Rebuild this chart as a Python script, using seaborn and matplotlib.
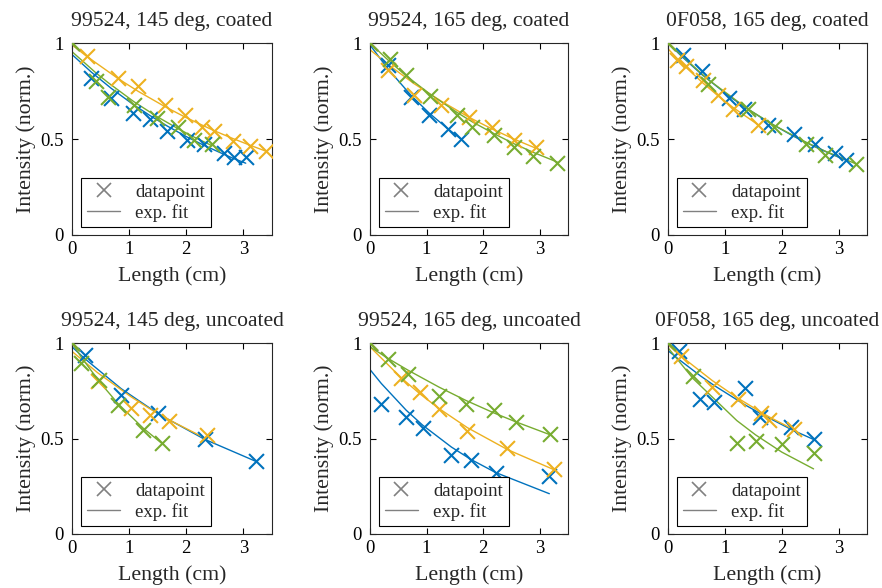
import numpy as np
import pandas as pd
import matplotlib
matplotlib.use("Agg")
import matplotlib.pyplot as plt
from matplotlib.lines import Line2D
import seaborn as sns

# ---------------- data ----------------
titles = ["99524, 145 deg, coated", "99524, 165 deg, coated", "0F058, 165 deg, coated",
          "99524, 145 deg, uncoated", "99524, 165 deg, uncoated", "0F058, 165 deg, uncoated"]
series_names = ["s1", "s2", "s3"]
series_colors = ["#0072BD", "#EDB120", "#77AC30"]

# panel 1
p1_x1 = [0, 0.34, 0.69, 1.07, 1.36, 1.67, 2.01, 2.31, 2.66, 2.84, 3.04]
p1_y1 = [1.0, 0.817, 0.713, 0.634, 0.603, 0.544, 0.495, 0.472, 0.429, 0.408, 0.404]
p1_f1 = [0.940, 0.848, 0.763, 0.680, 0.623, 0.567, 0.511, 0.467, 0.420, 0.397, 0.374]
p1_x2 = [0, 0.26, 0.81, 1.16, 1.63, 1.98, 2.28, 2.49, 2.81, 3.12, 3.39]
p1_y2 = [1.0, 0.934, 0.817, 0.777, 0.678, 0.625, 0.561, 0.542, 0.491, 0.465, 0.437]
p1_f2 = [0.990, 0.930, 0.814, 0.748, 0.668, 0.614, 0.572, 0.543, 0.503, 0.467, 0.437]
p1_x3 = [0, 0.42, 0.63, 1.08, 1.48, 1.86, 2.13, 2.45]
p1_y3 = [1.0, 0.80, 0.72, 0.678, 0.608, 0.564, 0.495, 0.472]
p1_f3 = [0.955, 0.844, 0.794, 0.695, 0.618, 0.553, 0.511, 0.465]

# panel 2
p2_x1 = [0, 0.32, 0.73, 1.05, 1.38, 1.61]
p2_y1 = [1.0, 0.887, 0.721, 0.625, 0.551, 0.498]
p2_f1 = [0.990, 0.864, 0.726, 0.634, 0.552, 0.500]
p2_x2 = [0, 0.32, 0.78, 1.26, 1.75, 2.16, 2.55, 2.94]
p2_y2 = [1.0, 0.861, 0.73, 0.678, 0.613, 0.561, 0.495, 0.456]
p2_f2 = [0.965, 0.888, 0.788, 0.697, 0.613, 0.552, 0.499, 0.451]
p2_x3 = [0, 0.345, 0.64, 1.06, 1.54, 1.81, 2.19, 2.54, 2.89, 3.31]
p2_y3 = [1.0, 0.916, 0.834, 0.725, 0.625, 0.564, 0.521, 0.46, 0.411, 0.376]
p2_f3 = [1.0, 0.904, 0.829, 0.734, 0.638, 0.589, 0.528, 0.476, 0.430, 0.380]

# panel 3
p3_x1 = [0, 0.26, 0.59, 1.08, 1.33, 1.76, 2.21, 2.58, 2.93, 3.13]
p3_y1 = [1.0, 0.939, 0.852, 0.712, 0.655, 0.573, 0.526, 0.474, 0.429, 0.390]
p3_f1 = [1.0, 0.925, 0.837, 0.722, 0.670, 0.589, 0.514, 0.460, 0.414, 0.390]
p3_x2 = [0, 0.15, 0.32, 0.62, 0.88, 1.14, 1.58]
p3_y2 = [1.0, 0.913, 0.882, 0.808, 0.730, 0.655, 0.573]
p3_f2 = [0.970, 0.923, 0.872, 0.790, 0.725, 0.665, 0.575]
p3_x3 = [0, 0.70, 1.41, 1.87, 2.42, 2.77, 3.31]
p3_y3 = [1.0, 0.786, 0.655, 0.561, 0.472, 0.416, 0.368]
p3_f3 = [1.0, 0.811, 0.655, 0.571, 0.484, 0.436, 0.370]

# panel 4
p4_x1 = [0, 0.22, 0.86, 1.51, 2.32, 3.22]
p4_y1 = [1.0, 0.939, 0.730, 0.631, 0.495, 0.382]
p4_f1 = [0.980, 0.919, 0.761, 0.629, 0.496, 0.380]
p4_x2 = [0, 0.45, 1.04, 1.36, 1.69, 2.36]
p4_y2 = [1.0, 0.80, 0.66, 0.625, 0.591, 0.516]
p4_f2 = [0.956, 0.844, 0.717, 0.656, 0.599, 0.497]
p4_x3 = [0, 0.16, 0.48, 0.81, 1.25, 1.57]
p4_y3 = [1.0, 0.895, 0.808, 0.678, 0.542, 0.477]
p4_f3 = [1.0, 0.927, 0.797, 0.681, 0.553, 0.475]

# panel 5
p5_x1 = [0, 0.20, 0.64, 0.93, 1.44, 1.78, 2.22, 3.17]
p5_y1 = [1.0, 0.683, 0.613, 0.556, 0.416, 0.390, 0.321, 0.303]
p5_f1 = [0.861, 0.788, 0.648, 0.570, 0.455, 0.391, 0.322, 0.211]
p5_x2 = [0, 0.55, 0.89, 1.22, 1.72, 2.43, 3.25]
p5_y2 = [1.0, 0.817, 0.744, 0.652, 0.538, 0.451, 0.341]
p5_f2 = [0.980, 0.818, 0.732, 0.657, 0.557, 0.442, 0.337]
p5_x3 = [0, 0.32, 0.67, 1.22, 1.69, 2.19, 2.58, 3.18]
p5_y3 = [1.0, 0.916, 0.840, 0.721, 0.683, 0.648, 0.585, 0.526]
p5_f3 = [0.980, 0.919, 0.858, 0.769, 0.700, 0.634, 0.587, 0.520]

# panel 6
p6_x1 = [0, 0.20, 0.57, 0.81, 1.35, 1.61, 2.17, 2.56]
p6_y1 = [1.0, 0.956, 0.707, 0.690, 0.765, 0.613, 0.561, 0.495]
p6_f1 = [0.960, 0.912, 0.828, 0.778, 0.677, 0.633, 0.547, 0.495]
p6_x2 = [0, 0.23, 0.78, 1.23, 1.64, 1.78, 2.22]
p6_y2 = [1.0, 0.930, 0.770, 0.707, 0.631, 0.599, 0.551]
p6_f2 = [0.990, 0.931, 0.803, 0.711, 0.637, 0.613, 0.545]
p6_x3 = [0, 0.44, 1.21, 1.54, 2.0, 2.56]
p6_y3 = [1.0, 0.826, 0.477, 0.486, 0.469, 0.422]
p6_f3 = [0.975, 0.814, 0.594, 0.519, 0.429, 0.341]

x_ticks = [0, 1, 2, 3]
y_ticks = [0, 0.5, 1]
y_tick_labels = ["0", "0.5", "1"]

panels = [
    [(p1_x1, p1_y1, p1_f1), (p1_x2, p1_y2, p1_f2), (p1_x3, p1_y3, p1_f3)],
    [(p2_x1, p2_y1, p2_f1), (p2_x2, p2_y2, p2_f2), (p2_x3, p2_y3, p2_f3)],
    [(p3_x1, p3_y1, p3_f1), (p3_x2, p3_y2, p3_f2), (p3_x3, p3_y3, p3_f3)],
    [(p4_x1, p4_y1, p4_f1), (p4_x2, p4_y2, p4_f2), (p4_x3, p4_y3, p4_f3)],
    [(p5_x1, p5_y1, p5_f1), (p5_x2, p5_y2, p5_f2), (p5_x3, p5_y3, p5_f3)],
    [(p6_x1, p6_y1, p6_f1), (p6_x2, p6_y2, p6_f2), (p6_x3, p6_y3, p6_f3)],
]

rows = []
for pi, ser in enumerate(panels):
    for si, (xs, ys, fs) in enumerate(ser):
        for x, y, f in zip(xs, ys, fs):
            rows.append({"panel": pi, "series": series_names[si], "x": x, "y": y, "fit": f})
df = pd.DataFrame(rows)

# ---------------- style ----------------
sns.set_style("ticks")
plt.rcParams["font.family"] = ["Liberation Serif", "DejaVu Serif"]

fig = plt.figure(figsize=(8.82, 5.88), dpi=100)

lefts = [72, 370, 668]
widths = [200, 198, 199]
tops = [43, 343]
heights = [192, 191]
W, H = 882, 588

for pi in range(6):
    r, c = divmod(pi, 3)
    ax = fig.add_axes([lefts[c] / W, 1 - (tops[r] + heights[r]) / H, widths[c] / W, heights[r] / H])
    sub = df[df["panel"] == pi]
    for si, name in enumerate(series_names):
        s = sub[sub["series"] == name]
        sns.lineplot(data=s, x="x", y="fit", color=series_colors[si], estimator=None,
                     sort=False, linewidth=1.0, ax=ax, legend=False)
        sns.scatterplot(data=s, x="x", y="y", color=series_colors[si], marker="x",
                        s=115, linewidth=1.5, ax=ax, legend=False, zorder=3)
    ax.set_xlim(0, 3.5)
    ax.set_ylim(0, 1)
    ax.set_xticks(x_ticks)
    ax.set_xticklabels([str(t) for t in x_ticks])
    ax.set_yticks(y_ticks)
    ax.set_yticklabels(y_tick_labels)
    ax.tick_params(direction="in", length=4, width=0.8, top=True, right=True,
                   labelsize=13.5, colors="black")
    ax.tick_params(axis="y", pad=6)
    ax.tick_params(axis="x", pad=4)
    for sp in ax.spines.values():
        sp.set_visible(True)
        sp.set_linewidth(0.8)
        sp.set_color("#262626")
    ax.set_xlabel("Length (cm)", fontsize=15.7, labelpad=6)
    ax.set_ylabel("Intensity (norm.)", fontsize=15.7, labelpad=3)
    ax.set_title(titles[pi], fontsize=15.6, pad=12)
    handles = [Line2D([], [], color="gray", marker="x", linestyle="none", markersize=10,
                      markeredgewidth=1.2),
               Line2D([], [], color="gray", linewidth=1.0)]
    leg = ax.legend(handles, ["datapoint", "exp. fit"], loc="lower left",
                    bbox_to_anchor=(0.045, 0.04), fontsize=13.5, frameon=True,
                    fancybox=False, handlelength=1.8, borderpad=0.3, labelspacing=0.15,
                    handletextpad=0.8, borderaxespad=0.0)
    leg.get_frame().set_edgecolor("black")
    leg.get_frame().set_linewidth(0.8)
    leg.get_frame().set_alpha(1)

fig.savefig("out.png", dpi=100)
